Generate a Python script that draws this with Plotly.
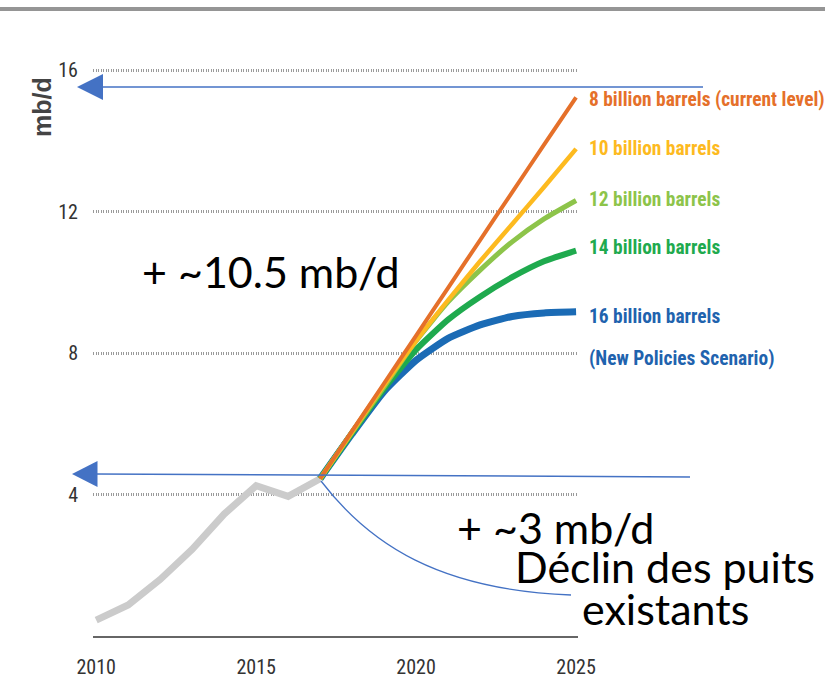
import plotly.graph_objects as go

# ---------------- data ----------------
hist_years = [2010, 2011, 2012, 2013, 2014, 2015, 2016, 2017]
hist_values = [0.45, 0.88, 1.6, 2.45, 3.45, 4.25, 3.95, 4.45]

proj_years = [2017, 2018, 2019, 2020, 2021, 2022, 2023, 2024, 2025]
orange_8bn = [4.45, 5.8, 7.15, 8.5, 9.85, 11.2, 12.55, 13.9, 15.24]
yellow_10bn = [4.45, 5.78, 7.1, 8.35, 9.5, 10.6, 11.65, 12.7, 13.78]
lgreen_12bn = [4.45, 5.76, 7.05, 8.35, 9.45, 10.35, 11.15, 11.8, 12.32]
green_14bn = [4.45, 5.75, 7.0, 8.1, 8.95, 9.6, 10.15, 10.6, 10.9]
blue_16bn = [4.45, 5.72, 6.92, 7.8, 8.42, 8.8, 9.04, 9.14, 9.17]

series_labels = ["8 billion barrels (current level)", "10 billion barrels",
                 "12 billion barrels", "14 billion barrels", "16 billion barrels"]
nps_label = "(New Policies Scenario)"

y_ticks = [4, 8, 12, 16]
x_ticks = [2010, 2015, 2020, 2025]

# ---------------- layout helpers ----------------
W_FIG, H_FIG = 825, 686
L, R, T, B = 93, 247, 60, 50
PW = W_FIG - L - R
PH = H_FIG - T - B


def px(x):
    return (x - L) / PW


def py(y):
    return (H_FIG - B - y) / PH


fig = go.Figure()

fig.add_trace(go.Scatter(x=hist_years, y=hist_values, mode="lines",
                         line=dict(color="#cbcbcb", width=7), hoverinfo="skip",
                         showlegend=False))

series = [
    (blue_16bn, "#1b6bb5", 7),
    (green_14bn, "#1faa4e", 6),
    (lgreen_12bn, "#8dc44a", 5),
    (yellow_10bn, "#fdba1f", 4.5),
    (orange_8bn, "#e5702a", 4),
]
for vals, col, w in series:
    fig.add_trace(go.Scatter(x=proj_years, y=vals, mode="lines",
                             line=dict(color=col, width=w, shape="spline", smoothing=0.5),
                             hoverinfo="skip", showlegend=False))

label_font = "Roboto Condensed, DejaVu Sans Condensed, sans-serif"
tick_family = "Roboto Condensed, DejaVu Sans Condensed, sans-serif"
big_font = "Lato, Open Sans, sans-serif"

annotations = []
label_specs = [
    (series_labels[0], "#e5702a", 100),
    (series_labels[1], "#fdba1f", 148),
    (series_labels[2], "#8dc44a", 199),
    (series_labels[3], "#1faa4e", 248),
    (series_labels[4], "#1f63ae", 316),
    (nps_label, "#1f63ae", 358),
]
for txt, col, yy in label_specs:
    annotations.append(dict(x=px(587), y=py(yy), xref="paper", yref="paper",
                            text="<b>" + txt + "</b>", showarrow=False,
                            xanchor="left", yanchor="middle",
                            font=dict(family=label_font, size=19.4, color=col)))

annotations.append(dict(x=px(41.5), y=py(107.5), xref="paper", yref="paper",
                        text="<b>mb/d</b>", textangle=-90, showarrow=False,
                        xanchor="center", yanchor="middle",
                        font=dict(family="Liberation Sans, Arial, sans-serif", size=25,
                                  color="#444444")))

for txt, xx, yy, anchor in [("+ ~10.5 mb/d", 140, 271, "left"),
                            ("+ ~3 mb/d", 455, 527, "left"),
                            ("Déclin des puits", 665, 566, "center"),
                            ("existants", 665, 608, "center")]:
    annotations.append(dict(x=px(xx), y=py(yy), xref="paper", yref="paper",
                            text=txt, showarrow=False, xanchor=anchor, yanchor="middle",
                            font=dict(family=big_font, size=43, color="#000000")))

shapes = []
shapes.append(dict(type="line", xref="paper", yref="paper", x0=px(0), x1=px(825),
                   y0=py(9), y1=py(9), line=dict(color="#959595", width=4)))
shapes.append(dict(type="line", xref="paper", yref="paper", x0=px(100), x1=px(703),
                   y0=py(87), y1=py(87), line=dict(color="#4472c4", width=1.5)))
shapes.append(dict(type="path", xref="paper", yref="paper",
                   path=f"M {px(77)},{py(87)} L {px(103)},{py(74)} L {px(103)},{py(100)} Z",
                   fillcolor="#4472c4", line=dict(width=0)))
shapes.append(dict(type="line", xref="paper", yref="paper", x0=px(95), x1=px(690),
                   y0=py(474), y1=py(477), line=dict(color="#4472c4", width=1.5)))
shapes.append(dict(type="path", xref="paper", yref="paper",
                   path=f"M {px(72)},{py(474)} L {px(97.5)},{py(461)} L {px(97.5)},{py(487)} Z",
                   fillcolor="#4472c4", line=dict(width=0)))
shapes.append(dict(type="path", xref="paper", yref="paper",
                   path=(f"M {px(321)},{py(481)} C {px(370)},{py(545)} "
                         f"{px(440)},{py(590)} {px(571)},{py(595)}"),
                   line=dict(color="#4472c4", width=1.3)))

tick_font = dict(family=tick_family, size=20, color="#333333")

fig.update_layout(
    width=W_FIG, height=H_FIG,
    margin=dict(l=L, r=R, t=T, b=B, autoexpand=False),
    paper_bgcolor="white", plot_bgcolor="white",
    showlegend=False,
    annotations=annotations,
    shapes=shapes,
    xaxis=dict(range=[2009.9, 2025.06], tickvals=x_ticks, ticktext=[str(v) for v in x_ticks],
               showgrid=False, zeroline=False, showline=True, linecolor="#666666",
               linewidth=2, ticks="", tickfont=tick_font, ticklabelstandoff=12,
               automargin=False),
    yaxis=dict(range=[0, PH / 35.35], tickvals=y_ticks, ticktext=[str(v) for v in y_ticks],
               showgrid=True, gridcolor="#9a9a9a", gridwidth=2.5, griddash="1px,1.5px",
               zeroline=False, showline=False, ticks="", tickfont=tick_font,
               ticklabelstandoff=14, automargin=False),
)

fig.write_html("out.html")
